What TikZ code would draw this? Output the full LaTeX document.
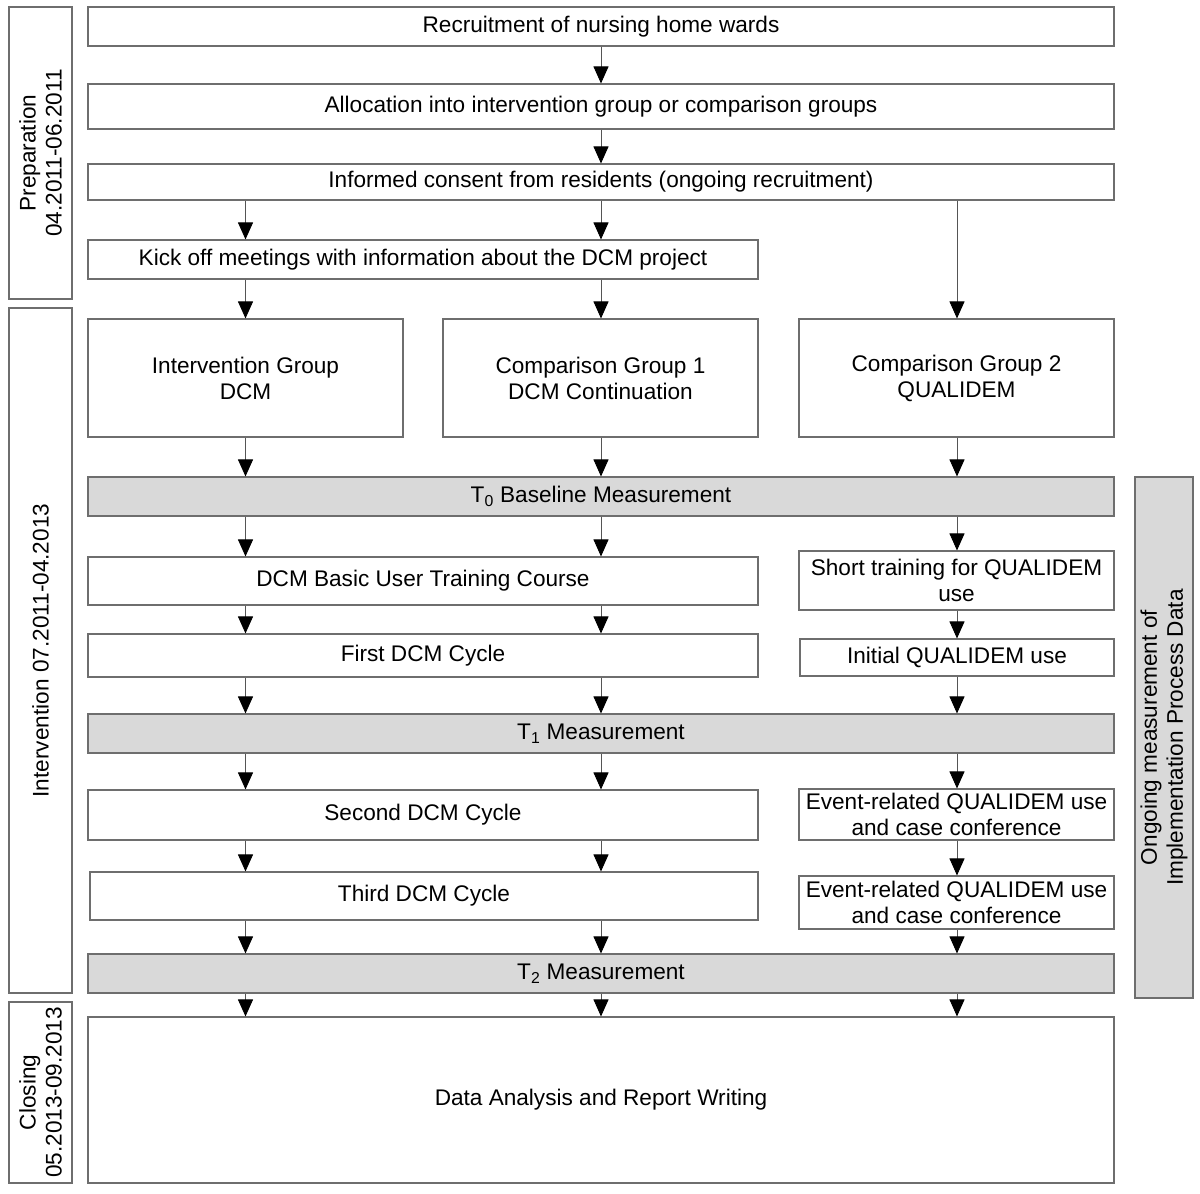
\documentclass[tikz,border=0pt]{standalone}
\usepackage{fontspec}
\setmainfont{Liberation Sans}
\usetikzlibrary{arrows.meta}
\definecolor{bordergray}{HTML}{6E6E6E}
\definecolor{fillgray}{HTML}{D9D9D9}
\definecolor{linegray}{HTML}{555555}
\tikzset{
  box/.style={draw=bordergray, line width=1.1pt, fill=white, inner sep=0pt,
    font=\fontsize{22.6}{26}\selectfont, align=center, text=black},
  graybox/.style={box, fill=fillgray},
  arr/.style={draw=linegray, line width=0.9pt, -{Triangle[length=17pt,width=15pt,fill=black,color=black]}}
}
\begin{document}
\begin{tikzpicture}[x=1pt,y=-1pt]
\useasboundingbox (0,0) rectangle (1200,1194);
% phase boxes
\node[box, rotate=90, minimum width=292, minimum height=63] (prep) at (40.5,153) {Preparation\\04.2011-06.2011};
\node[box, rotate=90, minimum width=685, minimum height=63] (intv) at (40.5,650.5) {Intervention 07.2011-04.2013};
\node[box, rotate=90, minimum width=181, minimum height=63] (clos) at (40.5,1092.5) {Closing\\05.2013-09.2013};
\node[graybox, rotate=90, minimum width=521, minimum height=58] (ongo) at (1164,737.5) {Ongoing measurement of\\Implementation Process Data};
% main boxes
\node[box, minimum width=1026, minimum height=39] (rec) at (601,26.5) {Recruitment of nursing home wards};
\node[box, minimum width=1026, minimum height=45] (alloc) at (601,106.5) {Allocation into intervention group or comparison groups};
\node[box, minimum width=1026, minimum height=36] (cons) at (601,182) {Informed consent from residents (ongoing recruitment)};
\node[box, minimum width=670, minimum height=39] (kick) at (423,259.5) {Kick off meetings with information about the DCM project};
\node[box, minimum width=315, minimum height=118] (ig) at (245.5,378) {Intervention Group\\DCM};
\node[box, minimum width=315, minimum height=118] (cgA) at (600.5,378) {Comparison Group 1\\DCM Continuation};
\node[box, minimum width=315, minimum height=118] (cgB) at (956.5,378) {Comparison Group 2\\QUALIDEM};
\node[graybox, minimum width=1026, minimum height=39] (tzero) at (601,496.5) {T\textsubscript{0} Baseline Measurement};
\node[box, minimum width=670, minimum height=48] (basic) at (423,581) {DCM Basic User Training Course};
\node[box, minimum width=315, minimum height=59] (short) at (956.5,580.5) {Short training for QUALIDEM\\use};
\node[box, minimum width=670, minimum height=43] (first) at (423,655.5) {First DCM Cycle};
\node[box, minimum width=314, minimum height=37] (init) at (957,657.5) {Initial QUALIDEM use};
\node[graybox, minimum width=1026, minimum height=39] (tone) at (601,733.5) {T\textsubscript{1} Measurement};
\node[box, minimum width=670, minimum height=50] (second) at (423,815) {Second DCM Cycle};
\node[box, minimum width=315, minimum height=51] (evA) at (956.5,814.5) {Event-related QUALIDEM use\\and case conference};
\node[box, minimum width=668, minimum height=48] (third) at (424,896) {Third DCM Cycle};
\node[box, minimum width=315, minimum height=53] (evB) at (956.5,902.5) {Event-related QUALIDEM use\\and case conference};
\node[graybox, minimum width=1026, minimum height=39] (ttwo) at (601,973.5) {T\textsubscript{2} Measurement};
\node[box, minimum width=1026, minimum height=166] (data) at (601,1100) {Data Analysis and Report Writing};
% column coordinates
\coordinate (colA) at (245.5,0);
\coordinate (colB) at (601,0);
\coordinate (colC) at (957,0);
% connectors
\draw[arr] (rec.south -| colB) -- (alloc.north -| colB);
\draw[arr] (alloc.south -| colB) -- (cons.north -| colB);
\draw[arr] (cons.south -| colA) -- (kick.north -| colA);
\draw[arr] (cons.south -| colB) -- (kick.north -| colB);
\draw[arr] (cons.south -| colC) -- (cgB.north -| colC);
\draw[arr] (kick.south -| colA) -- (ig.north -| colA);
\draw[arr] (kick.south -| colB) -- (cgA.north -| colB);
\draw[arr] (ig.south -| colA) -- (tzero.north -| colA);
\draw[arr] (cgA.south -| colB) -- (tzero.north -| colB);
\draw[arr] (cgB.south -| colC) -- (tzero.north -| colC);
\draw[arr] (tzero.south -| colA) -- (basic.north -| colA);
\draw[arr] (tzero.south -| colB) -- (basic.north -| colB);
\draw[arr] (tzero.south -| colC) -- (short.north -| colC);
\draw[arr] (basic.south -| colA) -- (first.north -| colA);
\draw[arr] (basic.south -| colB) -- (first.north -| colB);
\draw[arr] (short.south -| colC) -- (init.north -| colC);
\draw[arr] (first.south -| colA) -- (tone.north -| colA);
\draw[arr] (first.south -| colB) -- (tone.north -| colB);
\draw[arr] (init.south -| colC) -- (tone.north -| colC);
\draw[arr] (tone.south -| colA) -- (second.north -| colA);
\draw[arr] (tone.south -| colB) -- (second.north -| colB);
\draw[arr] (tone.south -| colC) -- (evA.north -| colC);
\draw[arr] (second.south -| colA) -- (third.north -| colA);
\draw[arr] (second.south -| colB) -- (third.north -| colB);
\draw[arr] (evA.south -| colC) -- (evB.north -| colC);
\draw[arr] (third.south -| colA) -- (ttwo.north -| colA);
\draw[arr] (third.south -| colB) -- (ttwo.north -| colB);
\draw[arr] (evB.south -| colC) -- (ttwo.north -| colC);
\draw[arr] (ttwo.south -| colA) -- (data.north -| colA);
\draw[arr] (ttwo.south -| colB) -- (data.north -| colB);
\draw[arr] (ttwo.south -| colC) -- (data.north -| colC);
\end{tikzpicture}
\end{document}
